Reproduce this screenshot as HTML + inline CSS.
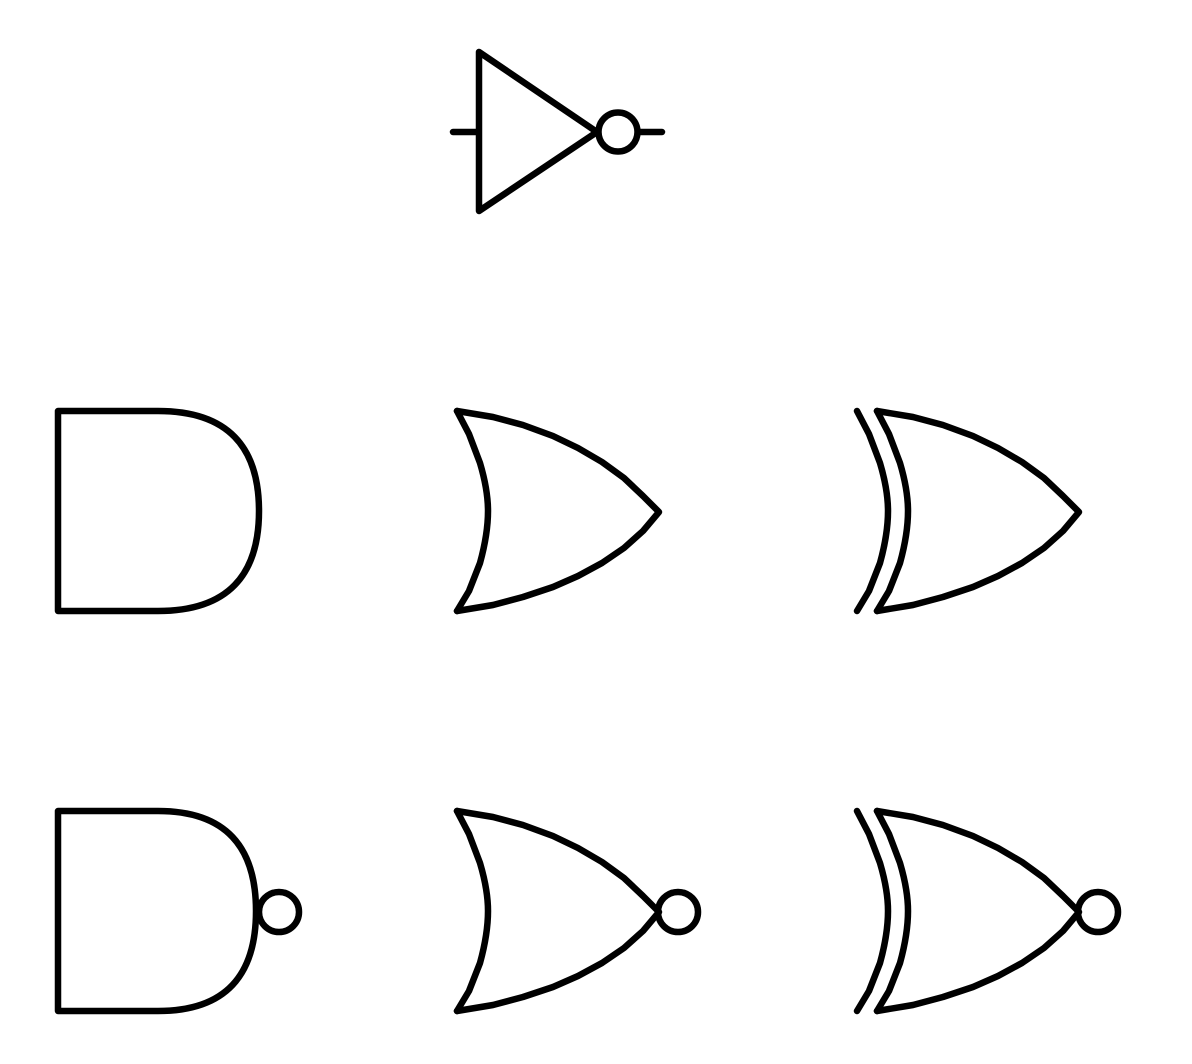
<!DOCTYPE html>
<html><head><meta charset="utf-8"><style>html,body{margin:0;padding:0;background:#fff}svg{display:block}</style></head>
<body>
<svg width="1192" height="1064" viewBox="0 0 1192 1064" xmlns="http://www.w3.org/2000/svg">
<defs>
<path id="orfront" d="M457,411 L493,417 L523,425 L553,436 L578,448 L602,462 L624,478 L643,496 L659,512 L643,531 L624,548 L602,563 L578,576 L553,587 L523,597 L493,605 L457,611"/>
<path id="orback" d="M457,411 L469,434 L480,463 Q488,490 488,511 Q488,534 480,563 L469,591 L457,611"/>
</defs>
<g fill="none" stroke="#000" stroke-width="6.5" stroke-linecap="round" stroke-linejoin="round">
<g>
<path d="M479,52 L479,211 L597,132 Z M453,132 L479,132 M639,132 L662,132"/>
<circle cx="618" cy="132" r="19.5"/>
</g>
<g>
<path d="M158,411 L58,411 L58,611 L158,611 C228,611 259,575 259,511 C259,447 228,411 158,411 Z"/>
</g>
<g>
<use href="#orfront"/><use href="#orback"/>
</g>
<g transform="translate(420,0)">
<use href="#orfront"/><use href="#orback"/><use href="#orback" transform="translate(-20,0)"/>
</g>
<g transform="translate(0,400)">
<path d="M158,411 L58,411 L58,611 L158,611 C226,611 256,575 256,511 C256,447 226,411 158,411 Z"/>
<circle cx="279" cy="512" r="20"/>
</g>
<g transform="translate(0,400)">
<use href="#orfront"/><use href="#orback"/>
<circle cx="678" cy="512" r="20"/>
</g>
<g transform="translate(420,400)">
<use href="#orfront"/><use href="#orback"/><use href="#orback" transform="translate(-20,0)"/>
<circle cx="678" cy="512" r="20"/>
</g>
</g>
</svg>
</body></html>
